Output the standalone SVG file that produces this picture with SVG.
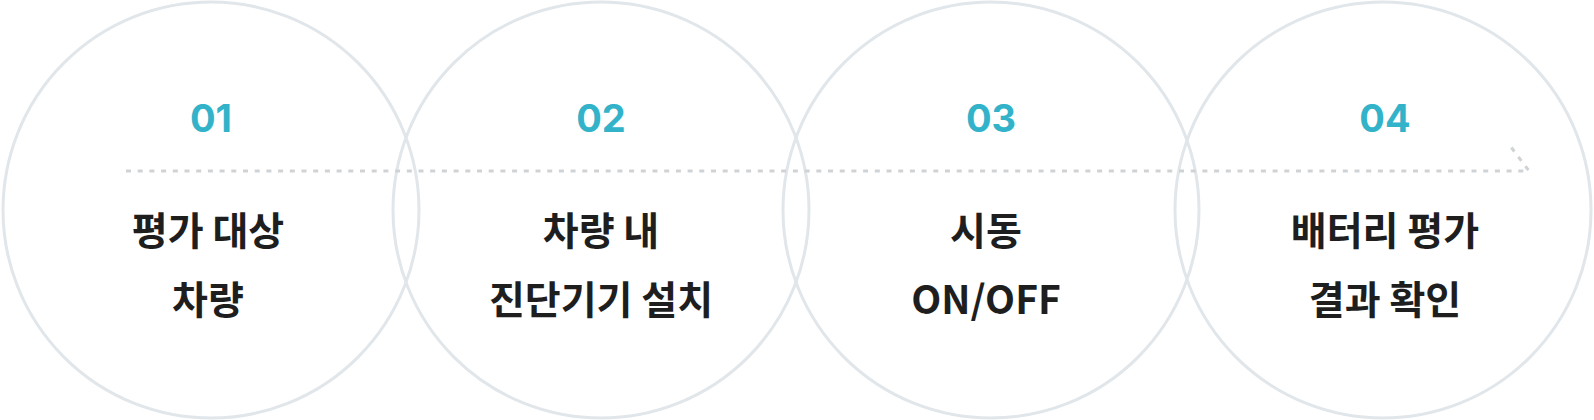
<svg xmlns="http://www.w3.org/2000/svg" width="1594" height="420" viewBox="0 0 1594 420">
<style>
.ring{fill:none;stroke:#e1e6ea;stroke-width:3}
.num{font-family:Inter,"Noto Sans",sans-serif;font-weight:700;font-size:38px;fill:#33b3c9;text-anchor:middle}
.lbl{font-family:"Noto Sans CJK KR","Noto Sans",sans-serif;font-weight:700;font-size:39px;fill:#1e1e1e;text-anchor:middle}
.flow{fill:none;stroke:#cfd3d6;stroke-width:3;stroke-dasharray:5 6.7}
</style>
<rect width="1594" height="420" fill="#ffffff"/>
<g id="step1">
<circle class="ring" cx="211" cy="210" r="208"/>
<text class="num" x="211" y="132">01</text>
<text class="lbl" x="208" y="245">평가 대상</text>
<text class="lbl" x="208" y="314">차량</text>
</g>
<g id="step2">
<circle class="ring" cx="601" cy="210" r="208"/>
<text class="num" x="601" y="132">02</text>
<text class="lbl" x="601" y="245">차량 내</text>
<text class="lbl" x="601" y="314">진단기기 설치</text>
</g>
<g id="step3">
<circle class="ring" cx="991" cy="210" r="208"/>
<text class="num" x="991" y="132">03</text>
<text class="lbl" x="986" y="245">시동</text>
<text class="lbl" x="986" y="314">ON/OFF</text>
</g>
<g id="step4">
<circle class="ring" cx="1383" cy="210" r="208"/>
<text class="num" x="1385" y="132">04</text>
<text class="lbl" x="1385" y="245">배터리 평가</text>
<text class="lbl" x="1385" y="314">결과 확인</text>
</g>
<g id="connectors">
<polyline class="flow" points="126,171 1529,171 1511,147"/>
</g>
</svg>
